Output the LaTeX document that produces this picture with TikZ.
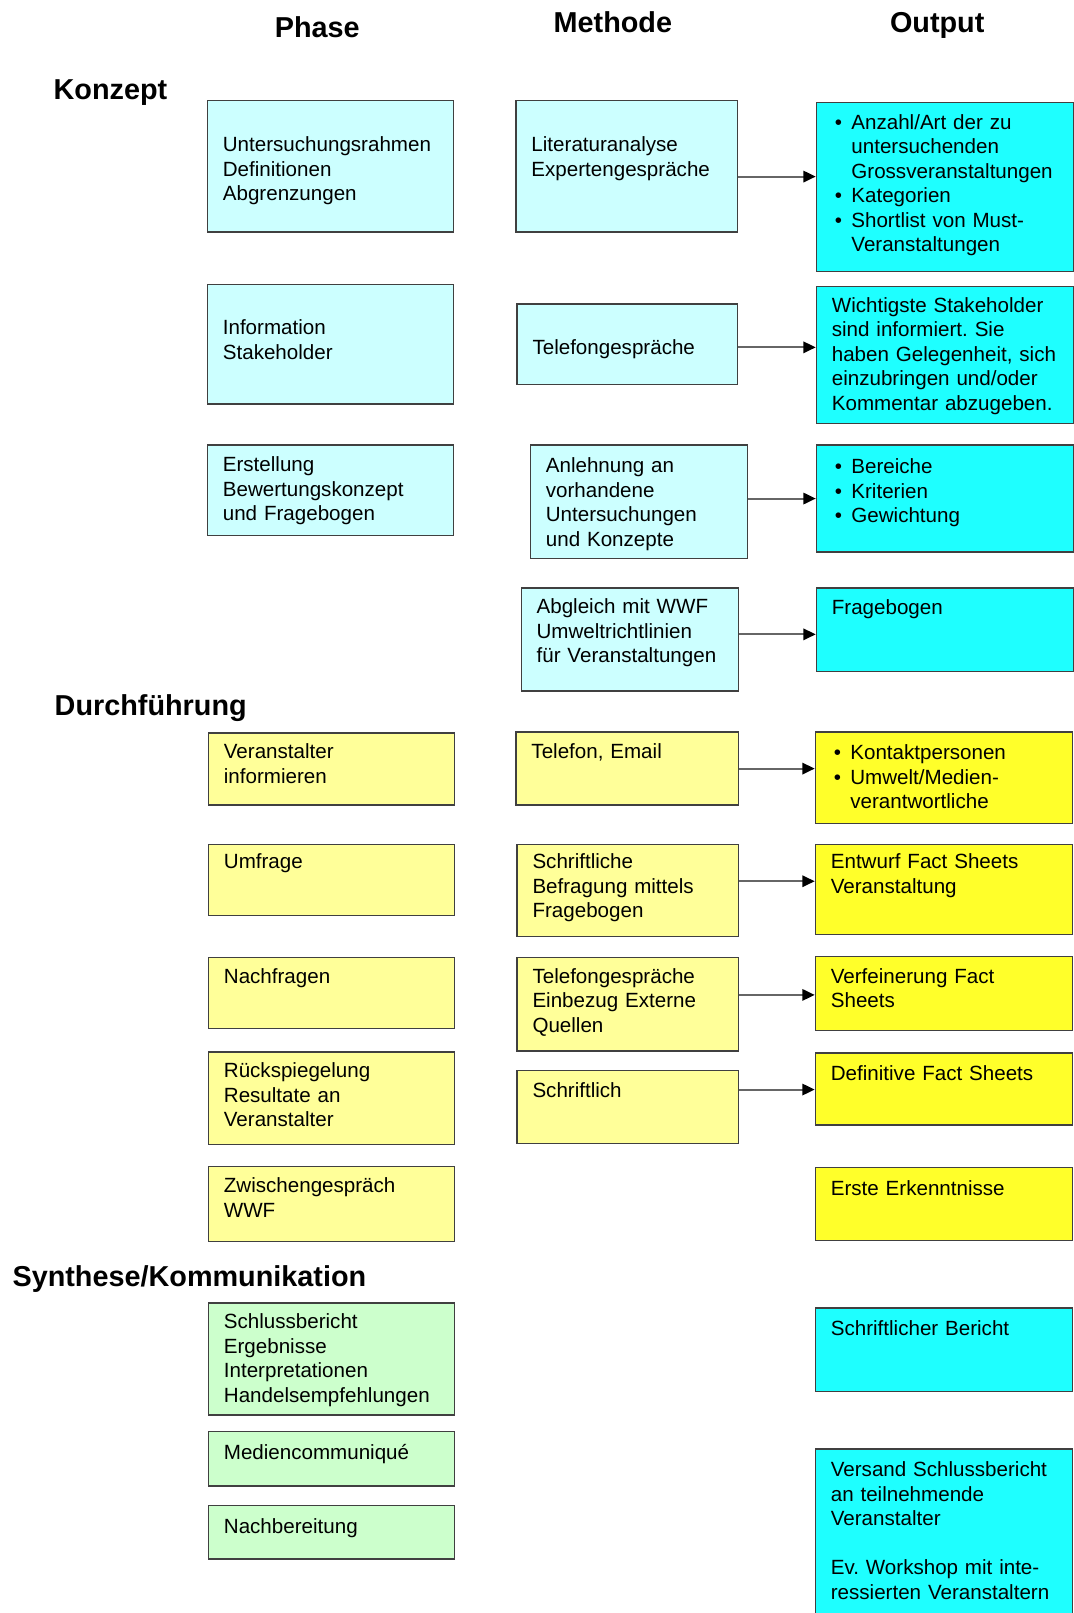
\documentclass[tikz,border=0pt]{standalone}
\usepackage{fontspec}
\setmainfont{Liberation Sans}
\usepackage{tikz}
\usepackage{xcolor}
\usetikzlibrary{positioning, arrows.meta}

\definecolor{kzlight}{HTML}{CCFFFF}
\definecolor{kzout}{HTML}{1EFFFF}
\definecolor{dflight}{HTML}{FFFF99}
\definecolor{dfout}{HTML}{FFFF2A}
\definecolor{synlight}{HTML}{CCFFCC}

\newcommand{\boxfont}{\fontsize{20}{23.8}\selectfont\frenchspacing}
\newcommand{\headfont}{\fontsize{28}{34}\selectfont\bfseries}
\newcommand{\rows}[1]{\begin{tabular}[t]{@{}l@{}}#1\end{tabular}}
\newcommand{\bu}{\makebox[19pt][l]{\hspace{3pt}\textbullet}}
\newcommand{\ind}{\hspace*{19pt}}

\begin{document}
\begin{tikzpicture}[x=1pt, y=-1pt,
    box/.style = {draw=black!75, line width=1.3pt, anchor=north west, inner xsep=15pt, inner ysep=0pt, align=left, font=\boxfont},
    phase/.style = {box, text width=209pt},
    meth/.style = {box, text width=185pt},
    outp/.style = {box, text width=220pt},
    hd/.style 2 args = {text height=#1pt, text depth=#2pt},
    head/.style = {anchor=base west, inner sep=0pt, font=\headfont},
    arr/.style = {draw=black!60, line width=2pt, -{Triangle[length=12pt, width=11pt, color=black]}}]
    \useasboundingbox (0,0) rectangle (1044,1568);
    \clip (0,0) rectangle (1044,1568);

    % column and phase titles
    \node[head] (HP) at (267,36) {Phase};
    \node[head] (HM) at (538,32) {Methode};
    \node[head] (HO) at (865,32) {Output};
    \node[head] (HK) at (52,97) {Konzept};
    \node[head] (HD) at (53,696) {Durchführung};
    \node[head] (HS) at (12,1251) {Synthese/Kommunikation};

    % Konzept
    \node[phase, fill=kzlight, hd={50}{78}] (P1) at (201,97) {\rows{Untersuchungsrahmen\\ Definitionen\\ Abgrenzungen}};
    \node[meth, fill=kzlight, hd={50}{78}] (M1) at (501,97) {\rows{Literaturanalyse\\ Expertengespräche}};
    \node[outp, fill=kzout, hd={26}{138}] (O1) at (793,99) {\rows{\bu Anzahl/Art der zu\\ \ind untersuchenden\\ \ind Grossveranstaltungen\\ \bu Kategorien\\ \bu Shortlist von Must-\\ \ind Veranstaltungen}};
    \node[phase, fill=kzlight, hd={49}{67}] (P2) at (201,276) {\rows{Information\\ Stakeholder}};
    \node[meth, fill=kzlight, text width=184pt, hd={49}{29}] (M2) at (502,295) {\rows{Telefongespräche}};
    \node[outp, fill=kzout, hd={25}{108}] (O2) at (793,278) {\rows{Wichtigste Stakeholder\\ sind informiert. Sie\\ haben Gelegenheit, sich\\ einzubringen und/oder\\ Kommentar abzugeben.}};
    \node[phase, fill=kzlight, hd={26}{62}] (P3) at (201,432) {\rows{Erstellung\\ Bewertungskonzept\\ und Fragebogen}};
    \node[meth, fill=kzlight, text width=181pt, hd={27}{83}] (M3) at (515,432) {\rows{Anlehnung an\\ vorhandene\\ Untersuchungen\\ und Konzepte}};
    \node[outp, fill=kzout, hd={28}{76}] (O3) at (793,432) {\rows{\bu Bereiche\\ \bu Kriterien\\ \bu Gewichtung}};
    \node[meth, fill=kzlight, text width=181pt, hd={25}{75}] (M4) at (506,571) {\rows{Abgleich mit WWF\\ Umweltrichtlinien\\ für Veranstaltungen}};
    \node[outp, fill=kzout, hd={26}{55}] (O4) at (793,571) {\rows{Fragebogen}};

    % Durchfuehrung
    \node[phase, fill=dflight, hd={25}{45}] (P5) at (202,712) {\rows{Veranstalter\\ informieren}};
    \node[meth, fill=dflight, text width=186pt, hd={26}{45}] (M5) at (501,711) {\rows{Telefon, Email}};
    \node[outp, fill=dfout, hd={27}{62}] (O5) at (792,711) {\rows{\bu Kontaktpersonen\\ \bu Umwelt/Medien-\\ \ind verantwortliche}};
    \node[phase, fill=dflight, hd={24}{45}] (P6) at (202,820) {\rows{Umfrage}};
    \node[meth, fill=dflight, hd={24}{66}] (M6) at (502,820) {\rows{Schriftliche\\ Befragung mittels\\ Fragebogen}};
    \node[outp, fill=dfout, hd={24}{64}] (O6) at (792,820) {\rows{Entwurf Fact Sheets\\ Veranstaltung}};
    \node[phase, fill=dflight, hd={25}{44}] (P7) at (202,930) {\rows{Nachfragen}};
    \node[meth, fill=dflight, hd={25}{66}] (M7) at (502,930) {\rows{Telefongespräche\\ Einbezug Externe\\ Quellen}};
    \node[outp, fill=dfout, hd={26}{46}] (O7) at (792,929) {\rows{Verfeinerung Fact\\ Sheets}};
    \node[phase, fill=dflight, hd={25}{65}] (P8) at (202,1022) {\rows{Rückspiegelung\\ Resultate an\\ Veranstalter}};
    \node[meth, fill=dflight, hd={26}{45}] (M8) at (502,1040) {\rows{Schriftlich}};
    \node[outp, fill=dfout, hd={27}{43}] (O8) at (792,1023) {\rows{Definitive Fact Sheets}};
    \node[phase, fill=dflight, hd={26}{47}] (P9) at (202,1133) {\rows{Zwischengespräch\\ WWF}};
    \node[outp, fill=dfout, hd={27}{44}] (O9) at (792,1134) {\rows{Erste Erkenntnisse}};

    % Synthese/Kommunikation
    \node[phase, fill=synlight, hd={25}{84}] (P10) at (202,1266) {\rows{Schlussbericht\\ Ergebnisse\\ Interpretationen\\ Handelsempfehlungen}};
    \node[phase, fill=synlight, hd={27}{26}] (P11) at (202,1391) {\rows{Mediencommuniqué}};
    \node[phase, fill=synlight, hd={27}{25}] (P12) at (202,1463) {\rows{Nachbereitung}};
    \node[outp, fill=kzout, hd={27}{54}] (O10) at (792,1271) {\rows{Schriftlicher Bericht}};
    \node[outp, fill=kzout, hd={27}{148}] (O11) at (792,1408) {\rows{Versand Schlussbericht\\ an teilnehmende\\ Veranstalter\\ \\ Ev. Workshop mit inte-\\ ressierten Veranstaltern}};

    \draw[arr] ([yshift=-10pt]M1.east) -- ([yshift=-10pt]M1.east -| O1.west);
    \draw[arr] ([yshift=-3pt]M2.east) -- ([yshift=-3pt]M2.east -| O2.west);
    \draw[arr] ([yshift=3pt]M3.east) -- ([yshift=3pt]M3.east -| O3.west);
    \draw[arr] ([yshift=5pt]M4.east) -- ([yshift=5pt]M4.east -| O4.west);
    \draw[arr] (M5.east) -- (M5.east -| O5.west);
    \draw[arr] ([yshift=9pt]M6.east) -- ([yshift=9pt]M6.east -| O6.west);
    \draw[arr] ([yshift=9pt]M7.east) -- ([yshift=9pt]M7.east -| O7.west);
    \draw[arr] ([yshift=17pt]M8.east) -- ([yshift=17pt]M8.east -| O8.west);
\end{tikzpicture}
\end{document}
